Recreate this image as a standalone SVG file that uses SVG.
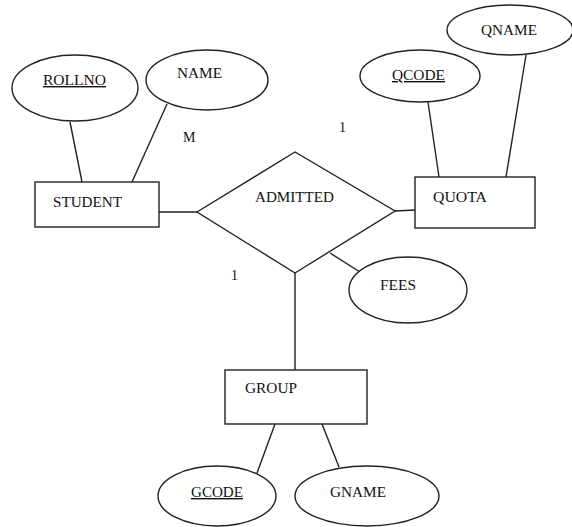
<svg xmlns="http://www.w3.org/2000/svg" width="572" height="527" viewBox="0 0 572 527">
<style>
.s{fill:#fff;stroke:#222;stroke-width:1.4}
.c line{stroke:#222;stroke-width:1.4}
text{font-family:"Liberation Serif","Times New Roman",serif;font-size:14px;fill:#111}
.u{text-decoration:underline}
</style>
<rect width="572" height="527" fill="#fff"/>
<g class="c">
<line x1="70" y1="122" x2="82" y2="182"/>
<line x1="167" y1="104" x2="132" y2="182"/>
<line x1="159" y1="212" x2="197" y2="212"/>
<line x1="395" y1="211" x2="415" y2="210"/>
<line x1="428" y1="102" x2="439" y2="177"/>
<line x1="526" y1="55" x2="506" y2="177"/>
<line x1="330" y1="253" x2="360" y2="272"/>
<line x1="295" y1="273" x2="295" y2="370"/>
<line x1="275" y1="424" x2="257" y2="473"/>
<line x1="322" y1="424" x2="339" y2="467"/>
</g>
<g id="rollno"><ellipse class="s" cx="75" cy="88" rx="63" ry="33"/><text class="u" x="43" y="85" textLength="63" lengthAdjust="spacingAndGlyphs">ROLLNO</text></g>
<g id="name"><ellipse class="s" cx="207" cy="80" rx="61" ry="30"/><text x="177" y="78" textLength="45" lengthAdjust="spacingAndGlyphs">NAME</text></g>
<g id="student"><rect class="s" x="35" y="182" width="124" height="45"/><text x="53" y="207" textLength="69" lengthAdjust="spacingAndGlyphs">STUDENT</text></g>
<g id="admitted"><polygon class="s" points="197,212 295,152 395,211 295,273"/><text x="255" y="202" textLength="79" lengthAdjust="spacingAndGlyphs">ADMITTED</text></g>
<g id="quota"><rect class="s" x="415" y="177" width="120" height="51"/><text x="433" y="202" textLength="54" lengthAdjust="spacingAndGlyphs">QUOTA</text></g>
<g id="qcode"><ellipse class="s" cx="420" cy="76" rx="60" ry="26"/><text class="u" x="392" y="80" textLength="53" lengthAdjust="spacingAndGlyphs">QCODE</text></g>
<g id="qname"><ellipse class="s" cx="510" cy="30" rx="63" ry="25"/><text x="481" y="35" textLength="56" lengthAdjust="spacingAndGlyphs">QNAME</text></g>
<g id="fees"><ellipse class="s" cx="408" cy="290" rx="59" ry="33"/><text x="380" y="290" textLength="36" lengthAdjust="spacingAndGlyphs">FEES</text></g>
<g id="group"><rect class="s" x="225" y="370" width="142" height="54"/><text x="245" y="393" textLength="52" lengthAdjust="spacingAndGlyphs">GROUP</text></g>
<g id="gcode"><ellipse class="s" cx="217" cy="496" rx="59" ry="30"/><text class="u" x="191" y="497" textLength="52" lengthAdjust="spacingAndGlyphs">GCODE</text></g>
<g id="gname"><ellipse class="s" cx="367" cy="496" rx="72" ry="30"/><text x="330" y="497" textLength="56" lengthAdjust="spacingAndGlyphs">GNAME</text></g>
<g id="labels">
<text x="183" y="142">M</text>
<text x="339" y="132">1</text>
<text x="231" y="280">1</text>
</g>
</svg>
